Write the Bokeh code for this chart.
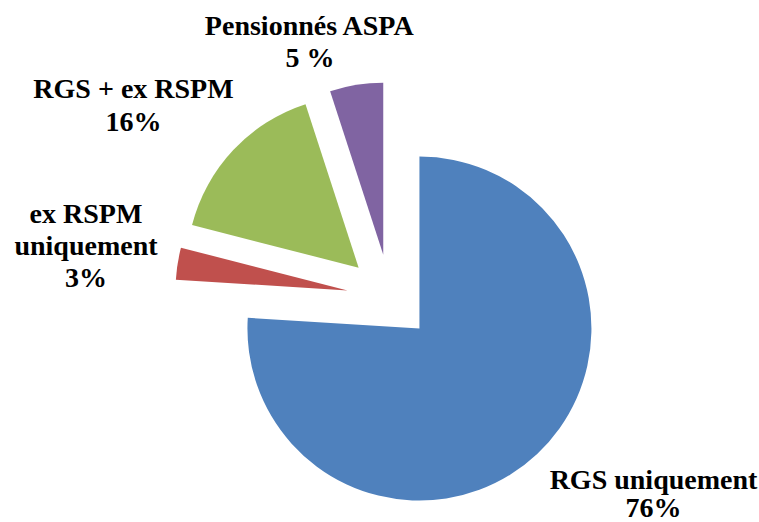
import numpy as np
from bokeh.plotting import figure
from bokeh.models import Range1d, ColumnDataSource
from bokeh.core.properties import value
from bokeh.embed import file_html
from bokeh.resources import INLINE

# ---- data ----
categories = ["RGS uniquement", "ex RSPM uniquement", "RGS + ex RSPM", "Pensionnés ASPA"]
shares = [76, 3, 16, 5]
pct_labels = ["76%", "3%", "16%", "5 %"]
label_lines = [
    ["RGS uniquement", "76%"],
    ["ex RSPM", "uniquement", "3%"],
    ["RGS + ex RSPM", "16%"],
    ["Pensionnés ASPA", "5 %"],
]
colors = ["#4F81BD", "#C0504D", "#9BBB59", "#8064A2"]

# ---- layout (screen coordinates = data coordinates, y flipped) ----
W, H = 759, 522
def sy(y):
    return H - y

cx, cy = 389.5, sy(296.7)
radius = 172
explode = 43

p = figure(width=W, height=H, output_backend="svg", toolbar_location=None,
           x_range=Range1d(0, W), y_range=Range1d(0, H),
           x_axis_type=None, y_axis_type=None, min_border=0,
           background_fill_color="white", border_fill_color="white")
p.grid.visible = False
p.outline_line_color = None

vals = np.array(shares, dtype=float)
frac = vals / vals.sum()
cum = np.concatenate([[0], np.cumsum(frac)])
theta0 = cum[:-1] * 2 * np.pi  # clockwise from top
theta1 = cum[1:] * 2 * np.pi
mid = (theta0 + theta1) / 2
xs = cx + explode * np.sin(mid)
ys = cy + explode * np.cos(mid)
start = np.pi / 2 - theta0
end = np.pi / 2 - theta1

src = ColumnDataSource(dict(x=xs, y=ys, start=start, end=end, color=colors, cat=categories))
p.wedge(x="x", y="y", radius=radius, start_angle="start", end_angle="end",
        direction="clock", fill_color="color", line_color=None, source=src)

# ---- labels ----
label_pos = [(653, 479), (85.5, 213), (133, 88), (309.5, 25)]
gaps = [28, 32, 33, 32]
tx, ty, tt = [], [], []
for lines, (lx, ly), g in zip(label_lines, label_pos, gaps):
    for i, t in enumerate(lines):
        tx.append(lx)
        ty.append(sy(ly + i * g))
        tt.append(t)
tsrc = ColumnDataSource(dict(x=tx, y=ty, text=tt))
p.text(x="x", y="y", text="text", source=tsrc, text_align="center",
       text_baseline="alphabetic", text_font=value("Liberation Serif"),
       text_font_style="bold", text_font_size="28px", text_color="black")

open("out.html", "w").write(file_html(p, INLINE))
